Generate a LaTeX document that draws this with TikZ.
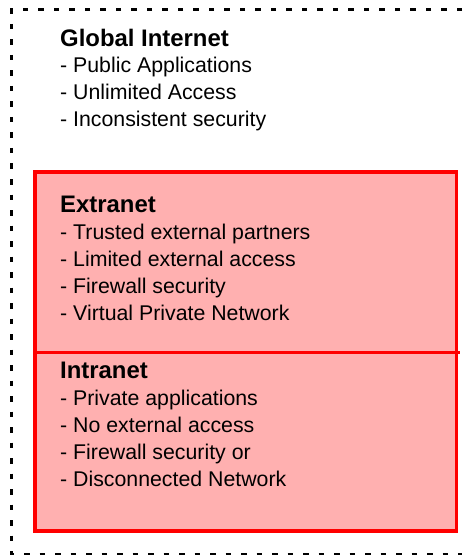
\documentclass[tikz,border=0pt]{standalone}
\usepackage{fontspec}
\setmainfont{Liberation Sans}
\definecolor{zonefill}{RGB}{255,176,176}
\definecolor{zoneline}{RGB}{255,0,0}
\tikzset{
  heading/.style={anchor=base west, inner sep=0pt, font=\fontsize{23.9}{28}\selectfont\bfseries},
  item/.style={anchor=base west, inner sep=0pt, font=\fontsize{21.3}{26}\selectfont},
  outerzone/.style={line width=2.8pt, dash pattern=on 5.5pt off 10pt},
  innerzone/.style={draw=zoneline, line width=3.3pt, fill=zonefill},
}
\begin{document}
\begin{tikzpicture}[x=1pt,y=-1pt]
  \useasboundingbox (0,0) rectangle (471,556);

  % dashed outline of the global internet zone (open on the right)
  \coordinate (gtr) at (462,9.5);
  \coordinate (gtl) at (11.5,9.5);
  \coordinate (gbl) at (11.5,554);
  \coordinate (gbr) at (462,554);
  \draw[outerzone] (gtr) -- (gtl) -- (gbl) -- (gbr);

  % red zone holding extranet and intranet
  \coordinate (rtl) at (35,172);
  \coordinate (rbr) at (456.3,531);
  \draw[innerzone] (rtl) rectangle (rbr);
  \coordinate (dl) at (35,352.5);
  \coordinate (dr) at (460,352.5);
  \draw[draw=zoneline, line width=3.3pt] (dl) -- (dr);

  % global internet
  \node[heading] (g0) at (60,46.5) {Global Internet};
  \node[item] (g1) at (60,72.5) {- Public Applications};
  \node[item] (g2) at (60,99.5) {- Unlimited Access};
  \node[item] (g3) at (60,126.5) {- Inconsistent security};

  % extranet
  \node[heading] (e0) at (60,212.5) {Extranet};
  \node[item] (e1) at (60,239.5) {- Trusted external partners};
  \node[item] (e2) at (60,266.5) {- Limited external access};
  \node[item] (e3) at (60,293) {- Firewall security};
  \node[item] (e4) at (60,320) {- Virtual Private Network};

  % intranet
  \node[heading] (i0) at (60,378.5) {Intranet};
  \node[item] (i1) at (60,405.5) {- Private applications};
  \node[item] (i2) at (60,432.5) {- No external access};
  \node[item] (i3) at (60,459) {- Firewall security or};
  \node[item] (i4) at (60,486) {- Disconnected Network};
\end{tikzpicture}
\end{document}
